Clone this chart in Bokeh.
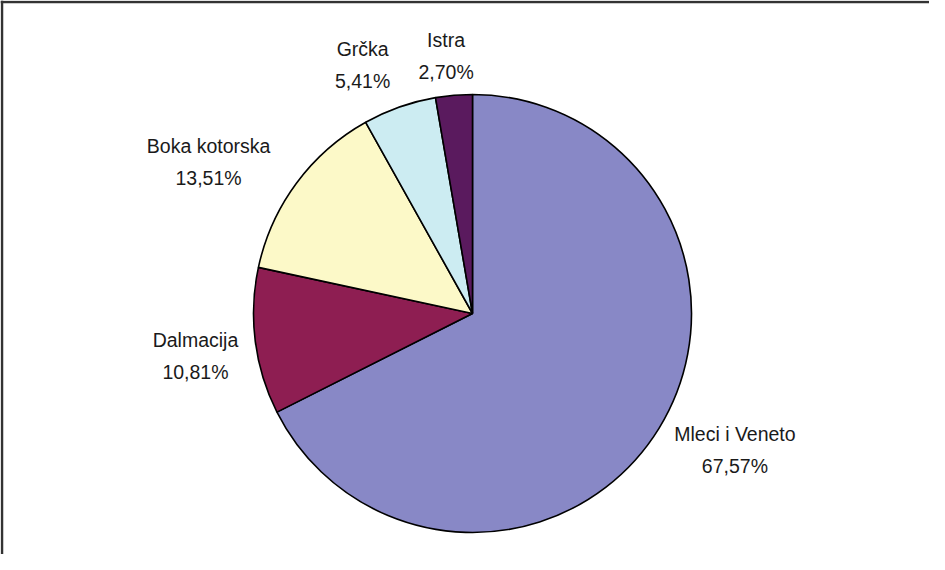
import math
from bokeh.plotting import figure
from bokeh.models import ColumnDataSource, Span
from bokeh.core.properties import value
from bokeh.embed import file_html
from bokeh.resources import INLINE

# ---- data ----
regions = ["Mleci i Veneto", "Dalmacija", "Boka kotorska", "Grčka", "Istra"]
counts = [25, 4, 5, 2, 1]
colors = ["#8888C6", "#8E1E52", "#FCF9C8", "#CCECF2", "#5A1A5E"]

# label placement styles (radius factor, angle tweak in degrees)
label_r = [1.35, 1.28, 1.39, 1.24, 1.18]
label_dtheta = [-4.2, -1.5, -6.6, -4.4, -1.0]

W, H = 929, 554
cx, cy, R = 472, 241, 219

total = sum(counts)
fracs = [c / total for c in counts]
starts, ends, lx, ly, texts = [], [], [], [], []
cum = 0.0
for i, f in enumerate(fracs):
    cw0 = cum * 2 * math.pi
    cw1 = (cum + f) * 2 * math.pi
    starts.append(math.pi / 2 - cw1)
    ends.append(math.pi / 2 - cw0)
    mid = (cw0 + cw1) / 2 + math.radians(label_dtheta[i])
    lx.append(cx + R * label_r[i] * math.sin(mid))
    ly.append(cy + R * label_r[i] * math.cos(mid))
    pct = f"{f*100:.2f}".replace(".", ",") + "%"
    texts.append(f"{regions[i]}\n{pct}")
    cum += f

src = ColumnDataSource(dict(start=starts, end=ends, color=colors,
                            lx=lx, ly=ly, text=texts))

p = figure(width=W, height=H, x_range=(0, W), y_range=(0, H),
           output_backend="svg", toolbar_location=None, min_border=0,
           tools="")
p.axis.visible = False
p.grid.visible = False
p.outline_line_color = None
p.background_fill_color = "white"

p.wedge(x=cx, y=cy, radius=R, start_angle="start", end_angle="end",
        fill_color="color", line_color="black", line_width=1.6, source=src)

p.text(x="lx", y="ly", text="text", source=src, text_align="center",
       text_baseline="middle", text_font=value("Liberation Sans"),
       text_font_size="19.5px", text_color="#1a1a1a", text_line_height=1.45)

p.add_layout(Span(location=H - 1.5, dimension="width", line_color="#333333", line_width=2.5))
p.add_layout(Span(location=1.5, dimension="height", line_color="#333333", line_width=2.5))

open("out.html", "w").write(file_html(p, INLINE))
